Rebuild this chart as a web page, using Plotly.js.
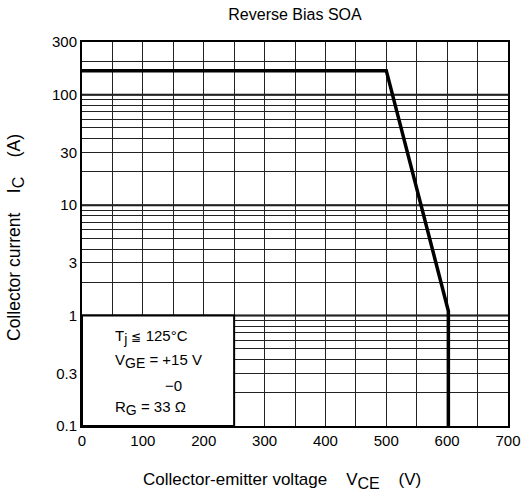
<!DOCTYPE html>
<html>
<head>
<meta charset="utf-8">
<script src="https://cdn.plot.ly/plotly-3.0.1.min.js"></script>
<style>html,body{margin:0;padding:0;background:#fff;}#chart{width:523px;height:495px;}</style>
</head>
<body>
<div id="chart"></div>
<script>
// Data
const vce = [0, 500, 602, 602];          // Collector-emitter voltage (V)
const ic  = [165, 165, 1.1, 0.1];        // Collector current (A)

const xTickVals = [0, 100, 200, 300, 400, 500, 600, 700];
const yTickVals = [0.1, 0.3, 1, 3, 10, 30, 100, 300];
const yTickText = ['0.1', '0.3', '1', '3', '10', '30', '100', '300'];
const yMinorVals = [0.2, 0.4, 0.5, 0.6, 0.7, 0.8, 0.9, 2, 4, 5, 6, 7, 8, 9, 20, 40, 50, 60, 70, 80, 90, 200];
const yDecades = [1, 10, 100];
const noteLines = [
  'T<sub><span style="font-size:14px">j</span></sub> <span style="font-size:12px">\u2266</span> 125\u00B0C',
  'V<sub><span style="font-size:14px">GE</span></sub> = +15 V',
  '\u22120',
  'R<sub><span style="font-size:14px">G</span></sub> = 33 \u03A9'
];

const FONT = 'Liberation Sans, Arial, Helvetica, sans-serif';

const shapes = yDecades.map(v => ({
  type: 'line', layer: 'between', xref: 'paper', yref: 'y',
  x0: 0, x1: 1, y0: v, y1: v,
  line: {color: '#000', width: 2}
}));
shapes.push({
  type: 'rect', layer: 'between', xref: 'x', yref: 'y',
  x0: 0, x1: 250, y0: 0.1, y1: 1,
  fillcolor: '#fff', line: {color: '#000', width: 2}
});

const noteX = [51, 51, 133, 51];
const noteY = [-0.194, -0.411, -0.629, -0.837];
const annotations = noteLines.map((t, i) => ({
  text: t, xref: 'x', yref: 'paper', x: noteX[i], y: (noteY[i] + 1) / Math.log10(3000),
  xanchor: 'left', yanchor: 'middle', showarrow: false,
  font: {family: FONT, size: 15, color: '#000'}
}));
annotations.push({
  text: 'Collector-emitter voltage    V<sub><span style="font-size:16px">CE</span></sub>    (V)',
  xref: 'paper', yref: 'paper', x: (282 - 82) / 426, y: -(481 - 426) / 384,
  xanchor: 'center', yanchor: 'middle', showarrow: false,
  font: {family: FONT, size: 17, color: '#000'}
});
annotations.push({
  text: 'Collector current    I<sub><span style="font-size:16px">C</span></sub>    (A)',
  xref: 'paper', yref: 'paper', x: -(82 - 15) / 426, y: (426 - 238) / 384,
  xanchor: 'center', yanchor: 'middle', textangle: -90, showarrow: false,
  font: {family: FONT, size: 17.5, color: '#000'}
});

const trace = {
  x: vce, y: ic, type: 'scatter', mode: 'lines',
  line: {color: '#000', width: 3.5}, hoverinfo: 'skip'
};

const layout = {
  width: 523, height: 495,
  margin: {l: 82, r: 15, t: 42, b: 69},
  paper_bgcolor: '#fff', plot_bgcolor: '#fff',
  showlegend: false,
  title: {text: 'Reverse Bias SOA', x: 295 / 523, xanchor: 'center', y: 1 - 14 / 495, yanchor: 'middle',
          font: {family: FONT, size: 16, color: '#000'}},
  xaxis: {
    range: [0, 700], tickmode: 'array', tickvals: xTickVals, ticks: '',
    showgrid: true, gridcolor: '#222', gridwidth: 1,
    minor: {dtick: 50, tick0: 0, showgrid: true, gridcolor: '#222', gridwidth: 1, ticks: ''},
    showline: true, linecolor: '#000', linewidth: 2, mirror: true, zeroline: false,
    tickfont: {family: FONT, size: 15, color: '#000'}
  },
  yaxis: {
    type: 'log', range: [Math.log10(0.1), Math.log10(300)],
    tickmode: 'array', tickvals: yTickVals, ticktext: yTickText, ticks: '',
    showgrid: true, gridcolor: '#222', gridwidth: 1,
    minor: {tickmode: 'array', tickvals: yMinorVals, showgrid: true, gridcolor: '#222', gridwidth: 1, ticks: ''},
    showline: true, linecolor: '#000', linewidth: 2, mirror: true, zeroline: false,
    tickfont: {family: FONT, size: 15, color: '#000'}
  },
  shapes: shapes,
  annotations: annotations
};

Plotly.newPlot('chart', [trace], layout, {displayModeBar: false, staticPlot: true});
</script>
</body>
</html>
